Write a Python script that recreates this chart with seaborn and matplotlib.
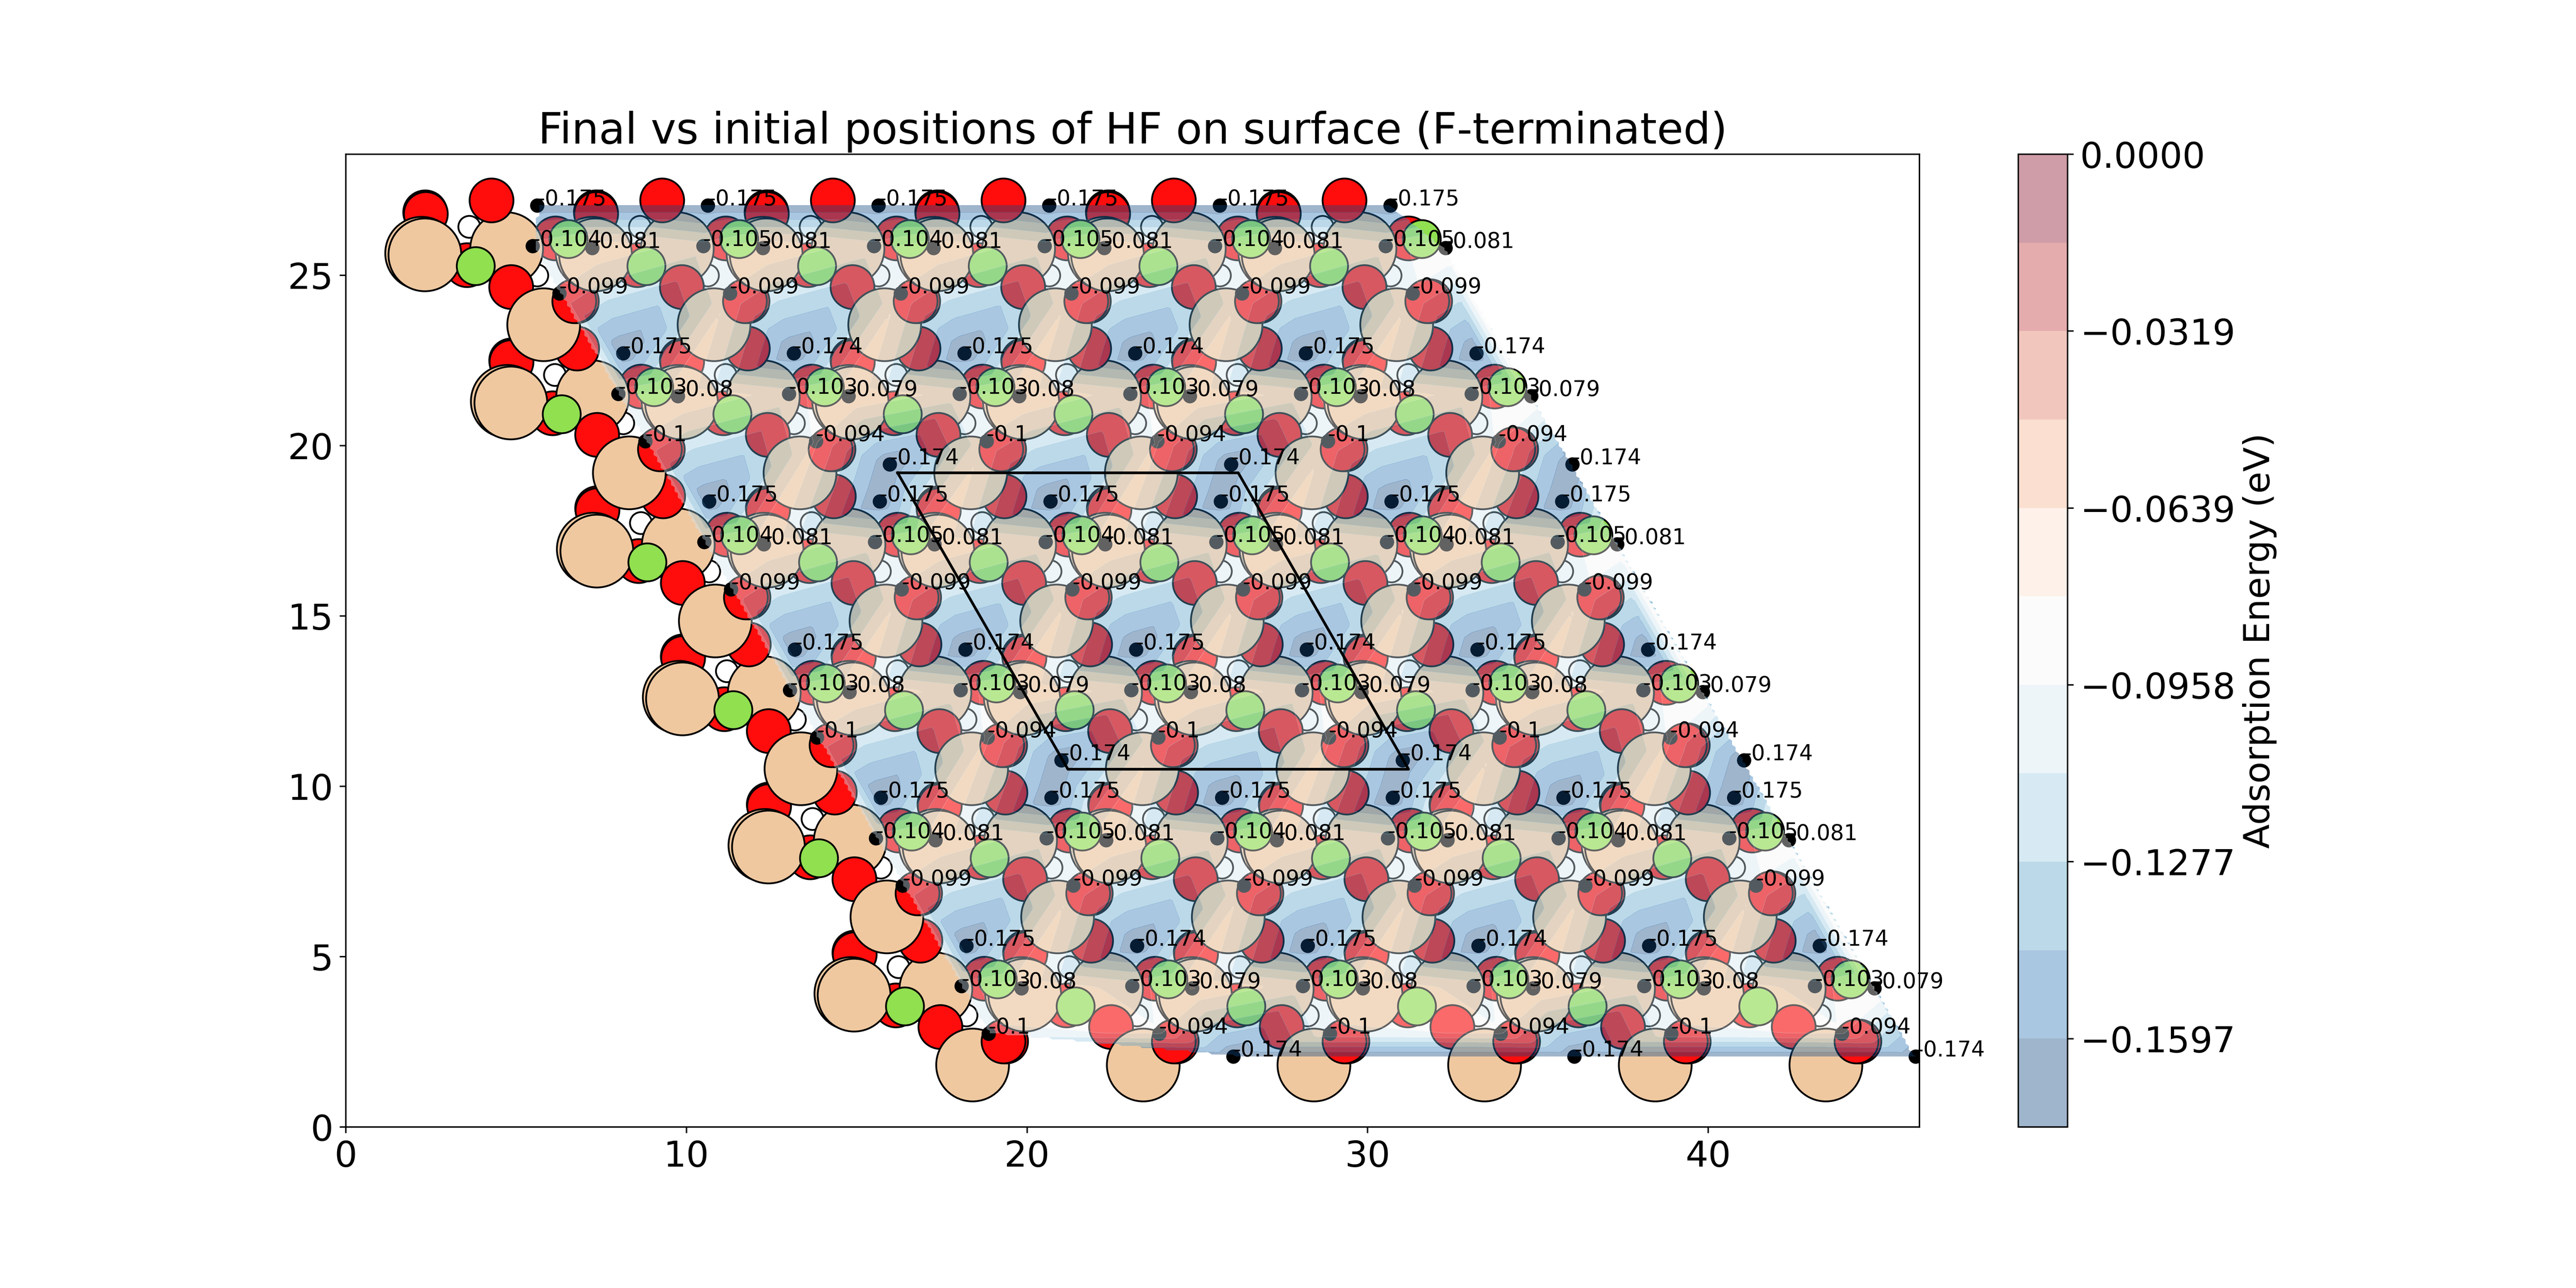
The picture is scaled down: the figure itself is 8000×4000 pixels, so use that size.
import numpy as np
import matplotlib
matplotlib.use("Agg")
import matplotlib.pyplot as plt
import matplotlib.tri as mtri
import seaborn as sns

TITLE = "Final vs initial positions of HF on surface (F-terminated)"
CBAR_LABEL = "Adsorption Energy (eV)"

# lattice offsets
COL_DX = [0.0, 5.01, 10.02, 15.03, 20.04, 25.05]
ROW_DX = [0.0, 2.52, 5.04, 7.56, 10.08, 12.60]
ROW_DY = [0.0, -4.345, -8.69, -13.035, -17.38, -21.725]

# atoms in the first repeat (x, y)
TAN_A = (2.32, 25.60); TAN_A2 = (2.22, 25.65)
TAN_B = (4.72, 25.78)
TAN_C = (5.80, 23.55)
RED_A = (2.34, 26.80); RED_A2 = (2.33, 26.85)
RED_B = (4.27, 27.20)
RED_C = (6.15, 26.08)
RED_D = (3.55, 25.30)
RED_E = (4.85, 24.66)
RED_F = (6.70, 24.24); RED_F2 = (6.78, 24.24)
GREEN_A = (6.53, 26.06)
GREEN_B = (3.81, 25.27)
WHITE_A = (3.62, 26.42)
WHITE_B = (5.62, 25.00)

# labelled sites in the first repeat
SITE_A = (5.62, 27.05)
SITE_B = (5.48, 25.86)
SITE_C = (7.23, 25.80)
SITE_D = (6.27, 24.47)

E_A = [[-0.175]*6,
       [-0.175, -0.174]*3,
       [-0.175]*6,
       [-0.175, -0.174]*3,
       [-0.175]*6,
       [-0.175, -0.174]*3]
E_B = [[-0.104, -0.105]*3,
       [-0.103]*6,
       [-0.104, -0.105]*3,
       [-0.103]*6,
       [-0.104, -0.105]*3,
       [-0.103]*6]
E_C = [[-0.081]*6,
       [-0.08, -0.079]*3,
       [-0.081]*6,
       [-0.08, -0.079]*3,
       [-0.081]*6,
       [-0.08, -0.079]*3]
E_D = [[-0.099]*6,
       [-0.1, -0.094]*3,
       [-0.099]*6,
       [-0.1, -0.094]*3,
       [-0.099]*6,
       [-0.1, -0.094]*3]

EXTRA_X = [15.97, 25.99, 36.01, 21.01, 31.03, 41.05, 26.05, 36.07, 46.09]
EXTRA_Y = [19.45, 19.45, 19.45, 10.76, 10.76, 10.76, 2.07, 2.07, 2.07]
EXTRA_E = [-0.174]*9

CELL_X = [16.2, 26.2, 31.2, 21.2, 16.2]
CELL_Y = [19.2, 19.2, 10.5, 10.5, 19.2]

LEVEL_TOP = 0.0
LEVEL_BOTTOM = -0.1756
CBAR_TICKS = [-0.1597, -0.1277, -0.0958, -0.0639, -0.0319, 0.0]
CBAR_TICK_LABELS = ["\u22120.1597", "\u22120.1277", "\u22120.0958", "\u22120.0639", "\u22120.0319", "0.0000"]

C_TAN = "#EFC8A0"; C_RED = "#FF0D0D"; C_GREEN = "#90E050"; C_WHITE = "#FFFFFF"
S_TAN = 1655; S_RED = 600; S_GREEN = 450; S_WHITE = 150


def replicate(base):
    xs, ys = [], []
    for rdx, rdy in zip(ROW_DX, ROW_DY):
        for cdx in COL_DX:
            xs.append(base[0] + rdx + cdx)
            ys.append(base[1] + rdy)
    return np.array(xs), np.array(ys)


fig = plt.figure(figsize=(20, 10), dpi=400)
ax = fig.add_axes([1074/8000, 500/4000, 4887/8000, 3021/4000])
cax = fig.add_axes([6268/8000, 500/4000, 153/8000, 3021/4000])

layers = [
    (WHITE_A, C_WHITE, S_WHITE), (WHITE_B, C_WHITE, S_WHITE),
    (RED_D, C_RED, S_RED), (RED_C, C_RED, S_RED),
    (RED_A2, C_RED, S_RED), (RED_A, C_RED, S_RED),
    (TAN_B, C_TAN, S_TAN),
    (RED_B, C_RED, S_RED), (RED_E, C_RED, S_RED),
    (TAN_C, C_TAN, S_TAN),
    (RED_F2, C_RED, S_RED), (RED_F, C_RED, S_RED),
    (TAN_A2, C_TAN, S_TAN), (TAN_A, C_TAN, S_TAN),
    (GREEN_B, C_GREEN, S_GREEN), (GREEN_A, C_GREEN, S_GREEN),
]
for z, (base, col, size) in enumerate(layers):
    xs, ys = replicate(base)
    sns.scatterplot(x=xs, y=ys, s=size, color=col, edgecolor="black", linewidth=1,
                    ax=ax, zorder=1 + z * 0.01, legend=False)

# labelled sites
site_x, site_y, site_e = [], [], []
for base, table in [(SITE_A, E_A), (SITE_B, E_B), (SITE_C, E_C), (SITE_D, E_D)]:
    xs, ys = replicate(base)
    site_x.extend(xs); site_y.extend(ys)
    site_e.extend(np.array(table).ravel().tolist())
site_x.extend(EXTRA_X); site_y.extend(EXTRA_Y); site_e.extend(EXTRA_E)
site_x = np.array(site_x); site_y = np.array(site_y); site_e = np.array(site_e)

sns.scatterplot(x=site_x, y=site_y, s=64, color="black", linewidth=0, ax=ax, zorder=2, legend=False)

# interpolated energy surface
tri = mtri.Triangulation(site_x, site_y)
interp = mtri.LinearTriInterpolator(tri, site_e)
gx, gy = np.meshgrid(np.linspace(site_x.min(), site_x.max(), 400),
                     np.linspace(site_y.min(), site_y.max(), 400))
gz = interp(gx, gy)
levels = np.linspace(LEVEL_BOTTOM, LEVEL_TOP, 12)
cs = ax.contourf(gx, gy, gz, levels=levels, cmap="RdBu_r", alpha=0.4, zorder=3)

for x, y, e in zip(site_x, site_y, site_e):
    ax.text(x, y, str(float(e)), fontsize=12, color="black", zorder=4)

sns.lineplot(x=CELL_X, y=CELL_Y, sort=False, estimator=None, color="black", linewidth=1.5, ax=ax, zorder=5)

ax.set_xlim(0, 46.2)
ax.set_ylim(0, 28.55)
ax.set_xticks([0, 10, 20, 30, 40])
ax.set_yticks([0, 5, 10, 15, 20, 25])
ax.tick_params(labelsize=20)
ax.set_xlabel(""); ax.set_ylabel("")
ax.set_title(TITLE, fontsize=24)

cb = fig.colorbar(cs, cax=cax)
cb.set_ticks(CBAR_TICKS)
cb.set_ticklabels(CBAR_TICK_LABELS)
cb.ax.tick_params(labelsize=20)
cb.set_label(CBAR_LABEL, fontsize=20)

fig.savefig("out.png", dpi=400)
